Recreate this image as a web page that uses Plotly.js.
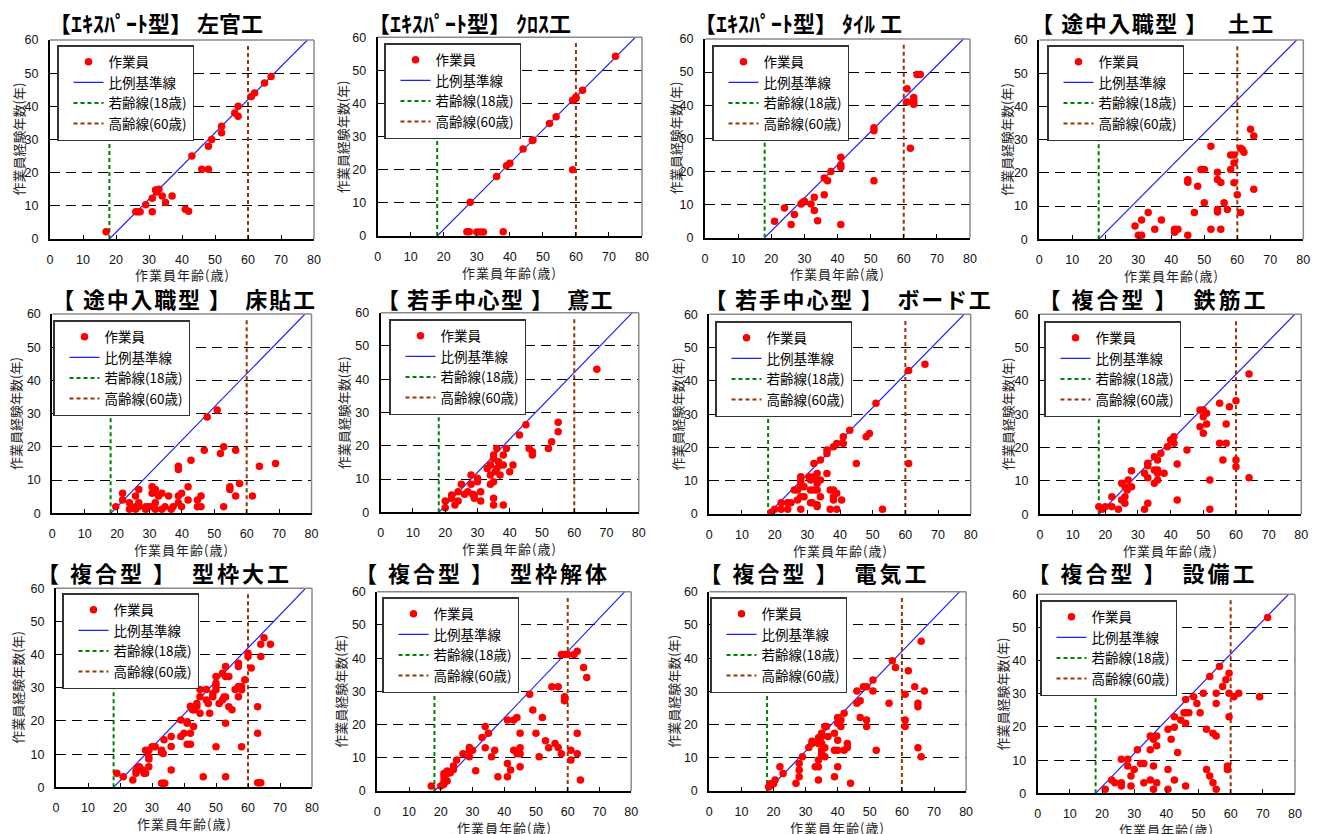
<!DOCTYPE html>
<html><head><meta charset="utf-8">
<script src="https://cdn.plot.ly/plotly-3.0.1.min.js"></script>
<style>html,body{margin:0;padding:0;background:#fff;}#chart{width:1321px;height:834px;}</style>
</head><body><div id="chart"></div>
<script>
// ---------------- data ----------------
const titles = [
  "【ｴｷｽﾊﾟｰﾄ型】 左官工", "【ｴｷｽﾊﾟｰﾄ型】 ｸﾛｽ工", "【ｴｷｽﾊﾟｰﾄ型】 ﾀｲﾙ 工", "【 途中入職型 】　 土工",
  "【 途中入職型 】　床貼工", "【 若手中心型 】　鳶工", "【 若手中心型 】　ボード工", "【 複合型 】　鉄筋工",
  "【 複合型 】　型枠大工", "【 複合型 】　型枠解体", "【 複合型 】　電気工", "【 複合型 】　設備工"
];
const xTitle = "作業員年齢(歳)";
const yTitle = "作業員経験年数(年)";
const legendNames = ["作業員", "比例基準線", "若齢線(18歳)", "高齢線(60歳)"];
const refAge = [18, 78];      // 比例基準線
const refExp = [0, 60];
const youngAge = [18, 18];    // 若齢線
const oldAge = [60, 60];      // 高齢線
const markLineExp = [0, 58.5];
const xTicks = [0, 10, 20, 30, 40, 50, 60, 70, 80];
const yTicks = [0, 10, 20, 30, 40, 50, 60];

const sakanAge = [17,26,26.7,27.3,29,31,31,32,32.3,33,34,35,37,41,42,43,46,48,48,49,52,52,56,57,57,61,62,65,67];
const sakanExp = [2.2,8.2,8.2,8.2,10.3,8.2,12.3,14.8,14.2,15,13,11,13,9,8.4,25,21,21,28,30,34,32,38,40,37,43,44,47,49];

const crossAge = [27,27.7,28,30,31,32,38,36,39,40,44,46.8,47,52,54,59,60,60,62,59,72];
const crossExp = [1.3,1.3,10.2,1.2,1.2,1.2,1.3,18,21.2,22,26.3,28.8,29,34,36,41,42,41.5,44,20,54.3];

const tileAge = [21,24,26,27,29,29.5,30,32,33,33,34,36,36,37,38,41,41,41,41,51,51,51,61,61,62,63,63,63,63,64,65];
const tileExp = [5,9,4,7,10.2,10.6,11,10.2,12.2,8.2,5.1,18,13,17.2,20,24.3,22,21.2,4,33.2,32.3,17.2,45,41,27,42.3,41.6,40.9,40.3,49.3,49.3];

const dokoAge = [29,30,31,31,33,35,37,41,41,42,45,45,45,48,47,49,50,50,52,52,55,54,54,55,54,54,56,57,58,58,59,59,59,60,61,61.5,61,62,64,65,65];
const dokoExp = [4,1.2,1.2,5.8,8.1,3,5.8,3,2.1,3,1.2,17.9,17.2,16,8.1,21,21,11,28,3,3,20.2,18,17.1,9,8.2,11,9,21,25.4,25.4,23,17,13.4,27.4,27,8.1,26.2,33.1,31.1,15.1];

const yukaAge = [19.6,21.7,21.7,23.8,23.8,25.7,25.7,25.7,26.7,26.7,26.7,28.8,28.8,29.8,30.8,30.8,30.8,31.8,31.8,31.8,32.8,33.8,33.8,34.8,35.9,36.7,37.3,38.9,38.9,38.9,38.9,39.9,39.9,41.9,41.9,42.8,44.8,44.8,45.9,45.9,46.9,47.8,50.9,51.9,52.9,52.9,54.8,54.8,56.6,56.6,57.8,61.8,63.9,68.9];
const yukaExp = [2,6,4,3.2,1.2,5.2,2,1.2,7.2,3.2,2,2,1.2,2,8,6,2,7.2,3.2,1.2,5.2,6,1.2,2,5.2,1.2,2,14.2,13.2,5.2,3.2,6,2,8,4,16,4,2,5.2,2,19,29,31.1,18,20,2,8,7.2,19,5.2,9,5.2,14.2,15];

const tobiAge = [20,20,22,22,23,24,24,25,26,27,28,28,28.5,29,29,30,30,31,31,33,34,34,34,35,35,35,35,35,35.5,36,36,36.5,37,37,38,38,38,39,40,41,43,45,46,47,47,52,53,55,55,67];
const tobiExp = [3.4,1.4,5.2,4.2,2.2,3.4,6.2,8.4,5.4,6.2,8.4,11.2,5.4,4.2,5.2,10.2,9.2,6.2,3.4,13.2,11.2,8.4,14.2,17.2,16.2,9.2,4.2,2.2,12.2,13.2,19.2,15.2,14.2,11.2,17.2,14.2,2.2,19.2,12.2,14.2,23.2,26.3,19.2,18.2,17.2,19.2,21.2,24.2,27.1,43];

const boardAge = [19,19,20,22,22,24,24,25,26,27,27,28,28,28,28,28,29,28,29,30.5,31,31.5,31,31,32,32,32,33,33,33,33,33,33,34,34,34,36,36,36,37,38,37,38,38,38,39,39,39,40.5,41,41,43,45,48,49,51,53,61,61,66];
const boardExp = [0.5,0.2,1.4,1.4,3.4,1.4,3.4,3.4,7.2,7.2,4.2,11.2,10.2,9.2,8.2,5.2,5.2,1.4,8.2,11.2,3.4,3.4,7.2,10.2,15.2,11.2,7.2,12.2,10.2,9.2,7.2,2.8,2.2,16.2,10.2,5.2,12.2,19.2,18.2,7.2,7.2,1.4,20.2,5.2,4.2,21.2,6.2,1.4,4.2,23.2,21.2,25.2,15.2,23.2,24.2,33.3,1.4,43.1,15.2,45];

const tekkinAge = [18,19,20,22,22,24,25,25,26,26,26,26.7,27,28,28,32,32,33,33,33,33,35,35,35,36,36,36,36,37,38,39,40,41,41,42,42,45,49,50,49,50,50,51,51,52,52,55,55,56,57,57,58,60,60,60,64,64];
const tekkinExp = [2.3,1.5,2.3,5.3,2.3,1.5,9.3,4.3,8.3,5.3,3.3,7.3,10.3,13.1,8.3,12.3,1.5,15.3,14.6,11,3.3,17.3,13.3,9.3,12.3,13.3,16.3,10.3,18.3,12.3,20.3,22.3,23.3,21.3,15.1,4.3,19.3,31.3,31.3,26.3,29.3,24.3,30.3,27.1,10.3,1.5,33.3,21.3,16.3,27.1,21.3,32.3,34.1,16.3,14.3,42.1,11];

const katawakuAge = [19,21,24,25,25,25.5,26,27,27.5,28,28,29,29,29,29,30,31,33,33,33.5,33,33.5,34,33.75,36,36,36,39,39,40,41,41,41,42,42,42,42.7,43.2,43,44,44,45,45,45,46,47,47,47.6,48,49,49,50,50,50,50,50,51,52,52.5,52,53,53,53,53,53,54,54,55,56,57,57,57,57,58,58,58,59,60,60,61,63,63,63,63.5,64,64,64,65,67];
const katawakuExp = [4.2,3.2,2.2,4.9,4.2,5.8,6.2,5.2,4.2,4.2,11.2,11.2,9.2,8.5,6.2,12.2,12.2,11.2,10.5,10.2,1.2,1.2,1.2,14.3,15.3,12.3,5.2,20.3,15.3,16.3,19.8,19.3,13,13,16.3,24.4,23.4,23.4,18.3,24.4,25.3,27.3,29.5,22.3,3.2,29.5,26.3,25.3,22.3,27.3,28.3,33.4,31.4,30.4,29.4,12.2,25.3,26.3,27.2,34.4,36.4,33.4,27.2,19.3,3.2,33.4,24.3,23.4,29.5,37.4,36.4,30.4,27.3,30.4,29.4,12.2,32.4,40.4,39.4,36,24.3,16.3,1.4,1.4,1.4,39.4,43.1,45.1,43.1];

const kaitaiAge = [17,20,21,21,21,21,22,22,22,23,24,24,25,27,29,29,30,29,31,33,34,34,35,36,37,38,41,43,44,41,41,42,43,44,45,45,45,45,48,49,50,51,52,53,54,55,57,56,57,58,59,60,58,59,59,59,61,61,62,63,63,63,64,65,66];
const kaitaiExp = [1.5,1.5,2,5.3,4.3,3,5.3,6,3,5.5,7.5,6.5,9.3,11.2,13.1,12.3,12.3,10.3,6.1,16.1,19.4,13,17.4,10.3,12.3,4.3,21.4,21.4,22.1,8.3,4.3,6.3,12.3,11.2,11.2,17.4,13,7.3,29.1,24.4,17.4,10.3,22.1,15.1,13,31.4,31.4,14.3,13.1,41.1,41.1,41.1,11.2,28.4,27.7,27.2,12.3,9.3,41.1,42.1,17.4,11.2,3.3,37.2,34.2];

const denkiAge = [18.5,19,20,19,20.5,22,23,27,28,28,28,29,31,32,32,33,34,34,34,34,34,35,35,35,35,35,35,36,36,36,36.5,37,39,39,39,40,40,40,40,40,41,41,42,42,43,43,44,46,46,47,47,48,49,49,49,51,51,52,56,57,58,61,61,61,62,64,65,65,65,66,66,67];
const denkiExp = [1.2,2.2,2.2,1.6,3.3,7.3,5.3,2.3,8.3,6.3,4.3,10.3,13.1,15,14.3,7.3,7.3,16,14.3,9.3,3.3,17.4,16.4,14.3,12.3,11.3,10.8,13,10.3,19.4,19.4,16.4,17.4,12.3,4.3,22.1,20.4,15.3,12.3,7.3,21.4,19.4,23.4,12.3,14.3,13.1,2.3,30.1,26.4,27.2,22.1,31.4,31.4,21.4,19.4,33.4,30.1,12.3,26.4,39.2,37.2,29.1,21.4,19.4,36.2,31.4,26.4,25.4,13,45.1,10.3,30.1];

const setsubiAge = [21,23,24,26,26,26,28,28,29,29,30,31,32,33,33,35,35,35,36,36,36,37,37,37,40.5,40.5,40.5,41.5,42.5,42.5,42.5,43.5,44.5,45.5,46,47,46,46,46,48.5,49.5,50.5,51.5,52.5,52.5,53.5,53.5,54.5,54.5,55.5,55.5,55.5,55.5,56.5,57.5,58.5,59,59,59.5,59.5,59.5,61,62.5,69,71.5];
const setsubiExp = [1.2,4,3.2,10.3,3.2,2.2,10.3,8.2,5.2,2.2,7.2,13.1,9,9,3.2,17.3,13.1,4,16.3,8.2,1.2,17.3,14.3,3.2,19.3,7.2,1.2,16.3,23.1,19.9,4,12.3,22.1,24.3,24.3,24.3,28.3,21.1,2.2,29.1,27.1,24.3,30.2,19.3,7.2,5.2,35.2,18.1,3.2,30.2,27.1,17.3,1.2,38.2,32.2,34.2,8.2,7.2,36.2,30.2,23.1,29.1,30.2,29.1,53];

const series = [
  [sakanAge, sakanExp], [crossAge, crossExp], [tileAge, tileExp], [dokoAge, dokoExp],
  [yukaAge, yukaExp], [tobiAge, tobiExp], [boardAge, boardExp], [tekkinAge, tekkinExp],
  [katawakuAge, katawakuExp], [kaitaiAge, kaitaiExp], [denkiAge, denkiExp], [setsubiAge, setsubiExp]
];

// ---------------- layout geometry (pixels) ----------------
const W = 1321, H = 834;
// [left(x=0), right(x=80), bottom(y=0), top(y=60)]
const geom = [
  [50, 314, 239, 40], [377.7, 642, 236, 37.3], [705, 970, 237.7, 39], [1039.3, 1303.3, 239.3, 40],
  [52.3, 311.5, 513.3, 314], [380.7, 638.8, 512.3, 312.7], [709.3, 970.7, 514, 314.3], [1040, 1301.3, 514.3, 314.3],
  [56, 312, 787.3, 588.3], [377.3, 631.2, 791, 591.7], [709.3, 966.1, 791, 591.7], [1037.7, 1295, 793.3, 594.3]
];
const legendPos = [[57,45],[384,43],[712,45],[1047,45],[53,320],[389,319],[715,321],[1044,321],[62,593],[382,597],[710,597],[1040,600]];
const titlePos = [[156,22],[470,22],[798,22],[1153,22],[185,298],[495,298],[848,298],[1153,298],[164,572],[482,572],[814,572],[1142,572]];
const titleSpacing = [0,0,0,1.5,1.8,1.5,1.8,3,3,3,3,3];
const yTitleOffset = [32,35,30,33,37,37,32,33,38,37,36,35];

const CJK = "'Noto Sans CJK JP', 'Noto Sans', sans-serif";
const NUM = "'Liberation Sans', Arial, sans-serif";

const traces = [];
const layout = {
  width: W, height: H, autosize: false,
  margin: {l:0, r:0, t:0, b:0},
  paper_bgcolor: '#fff', plot_bgcolor: '#fff',
  showlegend: true, annotations: [], shapes: []
};

const xTitleAnns = [], yTitleAnns = [];
for (let i = 0; i < 12; i++) {
  const s = i === 0 ? '' : String(i + 1);
  const g = geom[i];
  const xa = 'x' + s, ya = 'y' + s, lg = 'legend' + s;
  const [ages, exps] = series[i];

  traces.push({type:'scatter', mode:'lines', x: refAge, y: refExp, xaxis: xa, yaxis: ya, legend: lg,
    name: legendNames[1], legendrank: 2, line: {color:'#1f1fff', width:1.2}, hoverinfo:'skip'});
  traces.push({type:'scatter', mode:'lines', x: youngAge, y: markLineExp, xaxis: xa, yaxis: ya, legend: lg,
    name: legendNames[2], legendrank: 3, line: {color:'#008000', width:2, dash:'4px,3px'}, hoverinfo:'skip'});
  traces.push({type:'scatter', mode:'lines', x: oldAge, y: markLineExp, xaxis: xa, yaxis: ya, legend: lg,
    name: legendNames[3], legendrank: 4, line: {color:'#993300', width:2, dash:'4px,3px'}, hoverinfo:'skip'});
  traces.push({type:'scatter', mode:'markers', x: ages, y: exps, xaxis: xa, yaxis: ya, legend: lg,
    name: legendNames[0], legendrank: 1, marker: {color:'#ff0000', size:7.5}});

  layout['xaxis' + s] = {
    domain: [g[0] / W, g[1] / W], range: [0, 80], tickvals: xTicks, anchor: ya,
    ticks: 'inside', ticklen: 4, tickcolor: '#000', showline: true, linecolor: '#000', linewidth: 2,
    showgrid: false, zeroline: false, fixedrange: true, ticklabelstandoff: 8,
    tickfont: {family: NUM, size: 12.5, color: '#111'}
  };
  layout['yaxis' + s] = {
    domain: [1 - g[2] / H, 1 - g[3] / H], range: [0, 60], tickvals: yTicks, anchor: xa,
    ticks: '', showline: true, linecolor: '#000', linewidth: 2,
    showgrid: true, gridcolor: '#000', gridwidth: 1, griddash: '10px,6px',
    zeroline: false, fixedrange: true, ticklabelstandoff: 7,
    tickfont: {family: NUM, size: 12.5, color: '#111'}
  };
  layout[lg] = {
    x: legendPos[i][0] / W, y: 1 - legendPos[i][1] / H, xanchor: 'left', yanchor: 'top',
    xref: 'paper', yref: 'paper', bgcolor: '#fff', bordercolor: '#333', borderwidth: 1.5,
    font: {family: CJK, size: 13.5, color: '#000'}, tracegroupgap: 0, itemwidth: 30,
    indentation: 10, traceorder: 'normal'
  };
  layout.shapes.push({type:'line', xref: xa + ' domain', yref: ya + ' domain', x0:0, x1:1, y0:1, y1:1,
    line:{color:'#8a8a8a', width:1.5}, layer:'above'});
  layout.shapes.push({type:'line', xref: xa + ' domain', yref: ya + ' domain', x0:1, x1:1, y0:0, y1:1,
    line:{color:'#8a8a8a', width:1.5}, layer:'above'});

  layout.annotations.push({xref:'paper', yref:'paper', x: titlePos[i][0] / W, y: 1 - titlePos[i][1] / H,
    xanchor:'center', yanchor:'middle', showarrow:false, text: titles[i],
    font:{family: CJK, size: 22, weight: 'bold', color:'#000'}});
  xTitleAnns.push({xref:'paper', yref:'paper', x: (g[0] + g[1]) / 2 / W, y: 1 - (g[2] + 36) / H,
    xanchor:'center', yanchor:'middle', showarrow:false, text: xTitle,
    font:{family: CJK, size: 13, color:'#222'}});
  yTitleAnns.push({xref:'paper', yref:'paper', x: (g[0] - yTitleOffset[i]) / W, y: 1 - (g[2] + g[3]) / 2 / H,
    xanchor:'center', yanchor:'middle', showarrow:false, text: yTitle, textangle: -90,
    font:{family: CJK, size: 13, color:'#222'}});
}
layout.annotations = layout.annotations.concat(xTitleAnns, yTitleAnns);

// letter spacing for titles (styling only)
let css = '';
titleSpacing.forEach((sp, i) => { css += `g.annotation[data-index="${i}"] text{letter-spacing:${sp}px;}`; });
for (let k = 12; k < 24; k++) css += `g.annotation[data-index="${k}"] text{letter-spacing:1px;}`;
const st = document.createElement('style'); st.textContent = css; document.head.appendChild(st);

Plotly.newPlot('chart', traces, layout, {displayModeBar: false, staticPlot: true});
</script></body></html>
